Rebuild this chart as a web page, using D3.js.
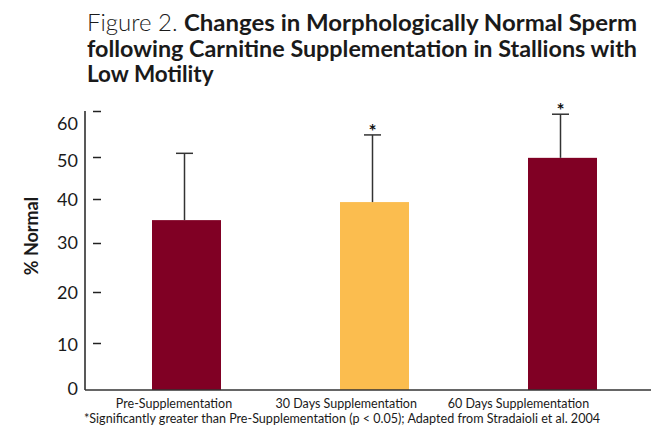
<!DOCTYPE html>
<html>
<head>
<meta charset="utf-8">
<script src="https://cdn.jsdelivr.net/npm/d3@7"></script>
<style>
  body { margin: 0; background: #fff; }
  text { font-family: Lato, "Open Sans", sans-serif; fill: #1a1a1a; }
</style>
</head>
<body>
<div id="chart"></div>
<script>
// data
const categories = ["Pre-Supplementation", "30 Days Supplementation", "60 Days Supplementation"]
const means = [35.2, 39.3, 49.8]   // % normal sperm
const upperErr = [15.6, 15.5, 9.5] // error bar above the mean
const significant = [false, true, true]
const tickValues = [0, 10, 20, 30, 40, 50, 60]
const barColors = ["#800024", "#fbbd4f", "#800024"]

const titleLines = [
  [["Figure 2. ", 300], ["Changes in Morphologically Normal Sperm", 700]],
  [["following Carnitine Supplementation in Stallions with", 700]],
  [["Low Motility", 700]]
]
const footnote = "*Significantly greater than Pre-Supplementation (p < 0.05); Adapted from Stradaioli et al. 2004"

const width = 651
const height = 437
const axisX = 85     // x of the vertical axis line
const baseY = 390    // y of the zero line

const svg = d3.select("#chart").append("svg")
  .attr("width", width)
  .attr("height", height)

// the original figure has uneven tick spacing, so the scale is piecewise
const y = d3.scaleLinear()
  .domain(tickValues)
  .range([390, 343, 292, 243, 199, 157, 111])

// tick labels sit a little off their dashes near the top
const yLabel = d3.scaleLinear()
  .domain(tickValues)
  .range([389, 345, 293, 243, 200, 161, 124])

const x = d3.scalePoint()
  .domain(categories)
  .range([186.5, 562.5])

const xLabel = d3.scalePoint()
  .domain(categories)
  .range([174, 518.5])

const barW = 69

// title
const title = svg.append("g").attr("class", "title")
titleLines.forEach((line, i) => {
  const t = title.append("text")
    .attr("x", 87)
    .attr("y", 31 + i * 25.5)
    .attr("font-size", 22.5)
  line.forEach(([s, w]) => t.append("tspan").attr("font-weight", w).text(s))
})
// squeeze the two long lines to the width of the original
title.selectAll("text").each(function (d, i) {
  if (i < 2) d3.select(this).attr("textLength", 550).attr("lengthAdjust", "spacingAndGlyphs")
})

// bars
svg.append("g").selectAll("rect")
  .data(categories)
  .join("rect")
  .attr("x", d => x(d) - barW / 2)
  .attr("y", (d, i) => y(means[i]))
  .attr("width", barW)
  .attr("height", (d, i) => baseY - y(means[i]))
  .attr("fill", (d, i) => barColors[i])

// error bars (upper only)
const err = svg.append("g").attr("stroke", "#333").attr("stroke-width", 1.5)
err.selectAll("line.stem")
  .data(categories)
  .join("line")
  .attr("class", "stem")
  .attr("x1", d => x(d) - 2)
  .attr("x2", d => x(d) - 2)
  .attr("y1", (d, i) => y(means[i]))
  .attr("y2", (d, i) => y(means[i] + upperErr[i]))
err.selectAll("line.cap")
  .data(categories)
  .join("line")
  .attr("class", "cap")
  .attr("x1", d => x(d) - 10.5)
  .attr("x2", d => x(d) + 6.5)
  .attr("y1", (d, i) => y(means[i] + upperErr[i]))
  .attr("y2", (d, i) => y(means[i] + upperErr[i]))

// significance stars
svg.append("g").selectAll("text")
  .data(categories.filter((d, i) => significant[i]))
  .join("text")
  .attr("x", d => x(d) - 2)
  .attr("y", d => y(means[categories.indexOf(d)] + upperErr[categories.indexOf(d)]) + 3)
  .attr("text-anchor", "middle")
  .attr("font-family", "DejaVu Sans")
  .attr("font-size", 19)
  .attr("font-weight", 700)
  .style("fill", "#111")
  .text("*")

// axis lines
svg.append("line")
  .attr("x1", axisX).attr("x2", axisX)
  .attr("y1", y(60)).attr("y2", baseY)
  .attr("stroke", "#222").attr("stroke-width", 1.5)
svg.append("line")
  .attr("x1", axisX).attr("x2", width)
  .attr("y1", baseY).attr("y2", baseY)
  .attr("stroke", "#333").attr("stroke-width", 1.5)

// detached tick dashes
const ticks = svg.append("g")
  .attr("transform", `translate(${axisX + 8},0)`)
  .call(d3.axisRight(y).tickValues(tickValues.slice(1)).tickSize(8).tickFormat(""))
ticks.select(".domain").remove()
ticks.selectAll(".tick line").attr("stroke", "#222").attr("stroke-width", 1.5)

// tick labels
svg.append("g").selectAll("text")
  .data(tickValues)
  .join("text")
  .attr("x", 78)
  .attr("y", d => yLabel(d))
  .attr("dy", "0.35em")
  .attr("text-anchor", "end")
  .attr("font-size", 18)
  .text(d => d)

// y axis title
svg.append("text")
  .attr("transform", "translate(38,236) rotate(-90)")
  .attr("text-anchor", "middle")
  .attr("font-size", 18)
  .attr("font-weight", 700)
  .text("% Normal")

// category labels
svg.append("g").selectAll("text")
  .data(categories)
  .join("text")
  .attr("x", d => xLabel(d))
  .attr("y", 408)
  .attr("text-anchor", "middle")
  .attr("font-size", 12.5)
  .text(d => d)

// footnote
svg.append("text")
  .attr("x", 84)
  .attr("y", 423)
  .attr("font-size", 12.5)
  .attr("textLength", 516)
  .attr("lengthAdjust", "spacingAndGlyphs")
  .text(footnote)
</script>
</body>
</html>
